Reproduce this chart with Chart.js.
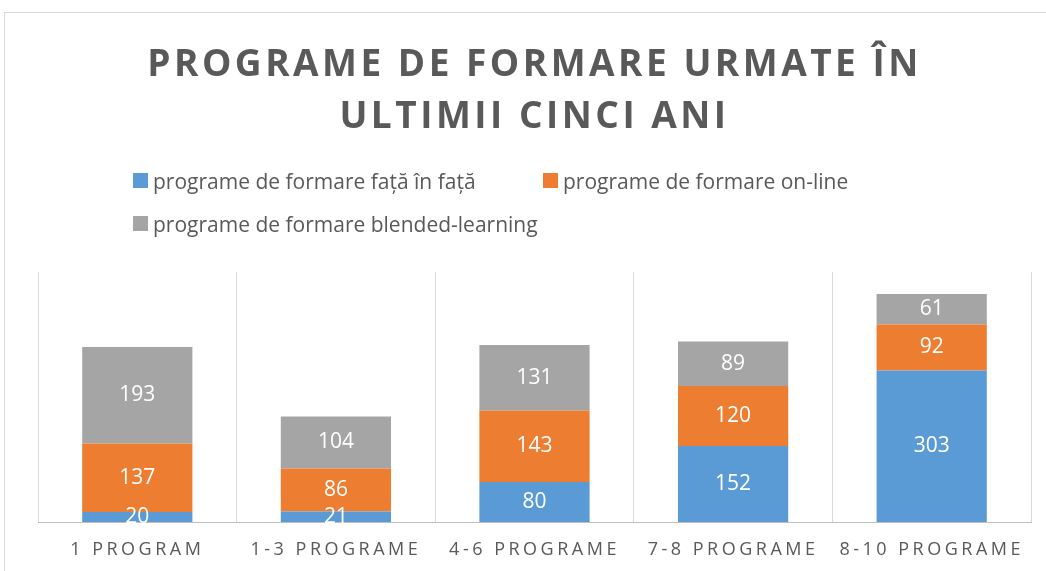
<!DOCTYPE html>
<html>
<head>
<meta charset="utf-8">
<script src="https://cdn.jsdelivr.net/npm/chart.js@4.4.1/dist/chart.umd.min.js"></script>
<style>
  html, body { margin: 0; padding: 0; background: #fff; }
  #wrap { position: relative; width: 1046px; height: 571px; overflow: hidden; }
  #frame { position: absolute; left: 4px; top: 12px; width: 1100px; height: 600px;
           border-top: 1px solid #d9d9d9; border-left: 1px solid #d9d9d9; pointer-events: none; }
  #legend { position: absolute; left: 133px; top: 159px; font-family: "Open Sans", sans-serif;
            font-size: 21px; color: #595959; }
  .row { height: 43px; display: flex; align-items: center; }
  .item { display: flex; align-items: center; }
  .item .sw { width: 15px; height: 15px; margin-right: 5px; }
  .item.first { width: 410px; }
</style>
</head>
<body>
<div id="wrap">
  <canvas id="chart" width="1046" height="571"></canvas>
  <div id="frame"></div>
  <div id="legend"></div>
</div>
<script>
// data
const categories = ['1 PROGRAM', '1-3 PROGRAME', '4-6 PROGRAME', '7-8 PROGRAME', '8-10 PROGRAME'];
const seriesNames = ['programe de formare față în față', 'programe de formare on-line', 'programe de formare blended-learning'];
const faceToFace = [20, 21, 80, 152, 303];
const online = [137, 86, 143, 120, 92];
const blended = [193, 104, 131, 89, 61];
const colors = ['#5B9BD5', '#ED7D31', '#A5A5A5'];

// html legend (two columns like the original)
const legendEl = document.getElementById('legend');
const rows = [[0, 1], [2]];
rows.forEach(r => {
    const row = document.createElement('div');
    row.className = 'row';
    r.forEach((idx, j) => {
        const it = document.createElement('div');
        it.className = 'item' + (j === 0 ? ' first' : '');
        it.innerHTML = '<span class="sw" style="background:' + colors[idx] + '"></span><span>' + seriesNames[idx] + '</span>';
        row.appendChild(it);
    });
    legendEl.appendChild(row);
});

// letter spacing for title and axis labels
const spacing = {
    id: 'spacing',
    beforeLayout(chart) { chart.ctx.letterSpacing = '3.5px'; },
    beforeDraw(chart) { chart.ctx.letterSpacing = '3.5px'; }
};

// white value labels in the middle of each segment
const valueLabels = {
    id: 'valueLabels',
    afterDatasetsDraw(chart) {
        const ctx = chart.ctx;
        ctx.save();
        ctx.letterSpacing = '0px';
        ctx.font = '21px "Open Sans", sans-serif';
        ctx.fillStyle = '#ffffff';
        ctx.textAlign = 'center';
        ctx.textBaseline = 'middle';
        chart.data.datasets.forEach((ds, i) => {
            chart.getDatasetMeta(i).data.forEach((bar, j) => {
                const y = (bar.y + bar.base) / 2;
                ctx.fillText(ds.data[j], bar.x, y);
            });
        });
        ctx.restore();
        ctx.letterSpacing = '3.5px';
    }
};

new Chart(document.getElementById('chart'), {
    type: 'bar',
    data: {
        labels: categories,
        datasets: [
            { label: seriesNames[0], data: faceToFace, backgroundColor: colors[0] },
            { label: seriesNames[1], data: online, backgroundColor: colors[1] },
            { label: seriesNames[2], data: blended, backgroundColor: colors[2] }
        ]
    },
    options: {
        responsive: false,
        animation: false,
        layout: { padding: { left: 38, right: 15, bottom: 11 } },
        datasets: { bar: { categoryPercentage: 0.555, barPercentage: 1 } },
        plugins: {
            legend: { display: false },
            tooltip: { enabled: false },
            title: {
                display: true,
                text: ['PROGRAME DE FORMARE URMATE ÎN', 'ULTIMII CINCI ANI'],
                color: '#595959',
                font: { family: '"Open Sans", sans-serif', size: 37, weight: 'bold', lineHeight: 1.405 },
                padding: { top: 39, bottom: 129 }
            }
        },
        scales: {
            x: {
                stacked: true,
                grid: { color: '#d9d9d9', drawTicks: false },
                border: { color: '#bfbfbf' },
                afterFit(scale) { scale.height = 38; },
                ticks: {
                    color: '#595959',
                    padding: 17,
                    autoSkip: false,
                    maxRotation: 0,
                    font: { family: '"Open Sans", sans-serif', size: 18 }
                }
            },
            y: { stacked: true, display: false, min: 0, max: 500 }
        }
    },
    plugins: [spacing, valueLabels]
});
</script>
</body>
</html>
